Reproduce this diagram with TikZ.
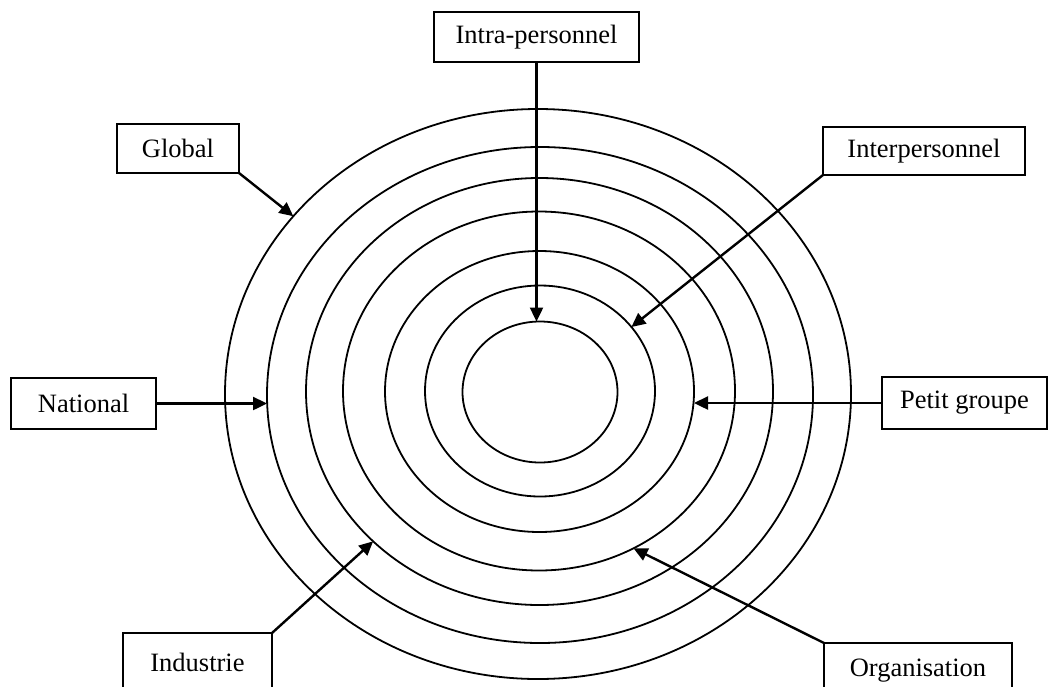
\documentclass[tikz,border=0pt]{standalone}
\usepackage{fontspec}
\setmainfont{Liberation Serif}
\usetikzlibrary{shapes.geometric,arrows.meta}
\begin{document}
\begin{tikzpicture}[x=1pt,y=-1pt,
  ring/.style={ellipse, draw, line width=1.8pt, inner sep=0pt, outer sep=0pt},
  lab/.style={draw, line width=1.6pt, inner sep=0pt, outer sep=0pt, font=\fontsize{26.5}{30}\selectfont},
  arr/.style={line width=2.4pt, -{Triangle[length=14pt,width=13pt]}}]
\useasboundingbox (0,0) rectangle (1048,686);
\clip (0,0) rectangle (1048,686);
% rings
\node[ring, minimum width=155pt, minimum height=141pt] (r1) at (540,392) {};
\node[ring, minimum width=230pt, minimum height=211pt] (r2) at (540,391) {};
\node[ring, minimum width=309pt, minimum height=281pt] (r3) at (539.5,391.5) {};
\node[ring, minimum width=392pt, minimum height=359pt] (r4) at (539,391) {};
\node[ring, minimum width=467pt, minimum height=427pt] (r5) at (539.5,391.5) {};
\node[ring, minimum width=546pt, minimum height=496pt] (r6) at (540,395) {};
\node[ring, minimum width=626pt, minimum height=570pt] (r7) at (538,394) {};
% labels
\node[lab, minimum width=205pt, minimum height=50pt] (intra) at (536.5,37) {Intra-personnel};
\node[lab, minimum width=122pt, minimum height=49pt] (glob) at (178,148.5) {Global};
\node[lab, minimum width=202pt, minimum height=48pt] (inter) at (924,151) {Interpersonnel};
\node[lab, minimum width=145pt, minimum height=51pt] (nat) at (83.5,403.5) {National};
\node[lab, minimum width=165pt, minimum height=52pt] (pg) at (964.5,403) {Petit groupe};
\node[lab, minimum width=149pt, minimum height=58pt] (ind) at (197.5,662) {Industrie};
\node[lab, minimum width=188pt, minimum height=56pt] (org) at (918,671) {Organisation};
% connectors
\draw[arr] (intra.south) -- (intra.south |- r1.north);
\draw[arr] (inter.south west) -- (r2.35);
\draw[arr] (pg.west) -- (pg.west -| r3.east);
\draw[arr] (org.north west) -- (r4.301);
\draw[arr] (ind.north east) -- (r5.222);
\draw[arr] (nat.east) -- (nat.east -| r6.west);
\draw[arr] (glob.south east) -- (r7.144);
\end{tikzpicture}
\end{document}
